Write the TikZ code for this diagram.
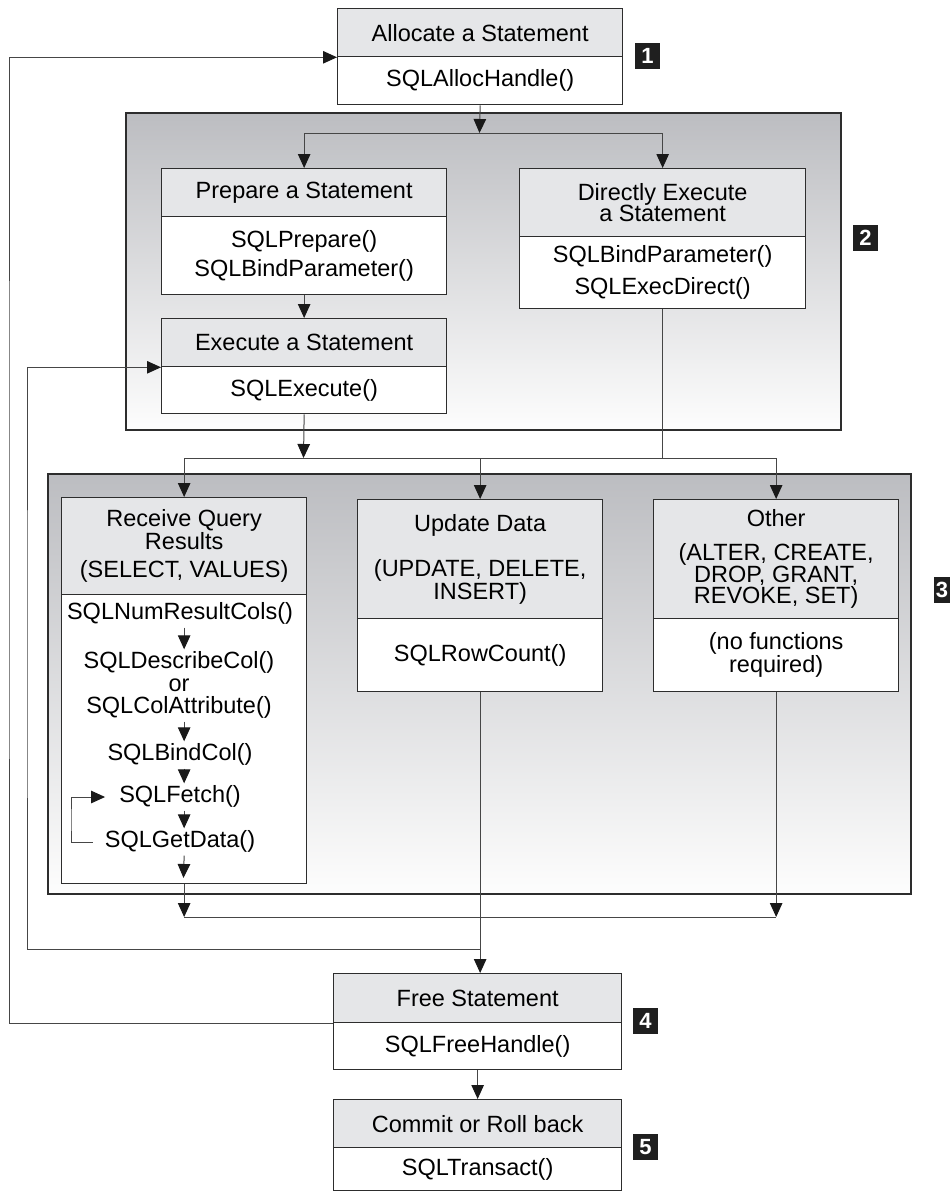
\documentclass[tikz,border=0pt]{standalone}
\usepackage{fontspec}
\setmainfont{Liberation Sans}
\usetikzlibrary{arrows.meta,calc}
\definecolor{hdrgray}{RGB}{229,230,232}
\definecolor{grptop}{RGB}{188,189,193}
\definecolor{grpbot}{RGB}{253,253,253}
\definecolor{edge}{RGB}{45,45,45}
\definecolor{wire}{RGB}{70,70,70}
\begin{document}
\begin{tikzpicture}[x=1pt,y=-1pt,
  every node/.style={font=\fontsize{23.5}{21.5}\selectfont},
  hdr/.style={draw=edge, line width=1.3pt, fill=hdrgray, anchor=north west, inner sep=0pt, align=center},
  bdy/.style={draw=edge, line width=1.3pt, fill=white, anchor=north west, inner sep=0pt, align=center},
  grp/.style={draw=edge, line width=1.5pt, top color=grptop, bottom color=grpbot, anchor=north west, inner sep=0pt},
  badge/.style={fill=black!88, text=white, font=\bfseries\fontsize{22}{22}\selectfont, minimum width=25pt, minimum height=26pt, inner sep=0pt},
  fn/.style={inner xsep=3pt, inner ysep=3pt, text height=16pt, text depth=5pt},
  wireline/.style={draw=wire, line width=1pt},
  arr/.style={wireline, -{Triangle[length=14pt,width=12.5pt,color=black!90]}}]
\useasboundingbox (0,0) rectangle (950,1192);

% shaded groups
\node[grp, minimum width=715pt, minimum height=317pt] (g2) at (125,112) {};
\node[grp, minimum width=863pt, minimum height=420pt] (g3) at (47,473) {};

% 1: allocate
\node[hdr, minimum width=285pt, minimum height=48pt] (allocH) at (337,8) {Allocate a Statement};
\node[bdy, minimum width=285pt, minimum height=48pt] (alloc) at (337,56) {SQLAllocHandle()};

% 2: prepare / direct / execute
\node[hdr, minimum width=285pt, minimum height=48pt] (prepH) at (161,168) {Prepare a Statement};
\node[bdy, minimum width=285pt, minimum height=78pt] (prep) at (161,216) {SQLPrepare()\\[6pt]SQLBindParameter()};
\node[hdr, minimum width=286pt, minimum height=68pt] (dirH) at (519,168) {Directly Execute\\a Statement};
\node[bdy, minimum width=286pt, minimum height=72pt] (dir) at (519,236) {SQLBindParameter()\\[9pt]SQLExecDirect()};
\node[hdr, minimum width=285pt, minimum height=48pt] (execH) at (161,318) {Execute a Statement};
\node[bdy, minimum width=285pt, minimum height=47pt] (exec) at (161,366) {SQLExecute()};

% 3: result handling
\node[hdr, minimum width=245pt, minimum height=97pt] (recvH) at (61,497) {Receive Query\\Results\\[7pt](SELECT, VALUES)};
\node[bdy, minimum width=245pt, minimum height=289pt] (rbody) at (61,594) {};
\node[hdr, minimum width=245pt, minimum height=119pt] (updH) at (357,499) {Update Data\\[22pt](UPDATE, DELETE,\\INSERT)};
\node[bdy, minimum width=245pt, minimum height=73pt] (ubody) at (357,618) {SQLRowCount()};
\node[hdr, minimum width=245pt, minimum height=119pt] (othH) at (653,499) {Other\\[12.5pt](ALTER, CREATE,\\DROP, GRANT,\\REVOKE, SET)};
\node[bdy, minimum width=245pt, minimum height=73pt] (obody) at (653,618) {(no functions\\required)};

% query result calls
\node[fn] (num) at (180,614) {SQLNumResultCols()};
\node[fn] (desc) at (179,663) {SQLDescribeCol()};
\node[fn] (orw) at (179,686) {or};
\node[fn] (colattr) at (179,708) {SQLColAttribute()};
\node[fn] (bind) at (180,755) {SQLBindCol()};
\node[fn] (fetch) at (180,797) {SQLFetch()};
\node[fn] (getdata) at (180,842) {SQLGetData()};
\coordinate (rend) at (183.5,878);
\coordinate (floop) at (71,820);

% 4: free, 5: commit
\node[hdr, minimum width=288pt, minimum height=49pt] (freeH) at (333,973) {Free Statement};
\node[bdy, minimum width=288pt, minimum height=47pt] (fbody) at (333,1022) {SQLFreeHandle()};
\node[hdr, minimum width=288pt, minimum height=48pt] (comH) at (333,1099) {Commit or Roll back};
\node[bdy, minimum width=288pt, minimum height=43pt] (cbody) at (333,1147) {SQLTransact()};

% step markers
\node[badge] (b1) at (647.5,56) {1};
\node[badge] (b2) at (865.5,238) {2};
\node[badge, minimum width=16pt] (b3) at (942,589.5) {3};
\node[badge] (b4) at (645.5,1020.5) {4};
\node[badge] (b5) at (645.5,1147) {5};

% junction points
\coordinate (s1) at (479.5,133);
\coordinate (s2) at (303.5,458);
\coordinate (s3) at (479.5,917);
\coordinate (m) at (479.5,949);
\coordinate (innerc) at (27,650);
\coordinate (outerc) at (9,500);

% flow
\draw[arr] (alloc.south) -- (s1);
\draw[arr] (s1) -| (prepH.north);
\draw[arr] (s1) -| (dirH.north);
\draw[arr] (prep.south) -- (execH.north);
\draw[arr] (exec.south) -- (s2);
\draw[wireline] (dir.south) -- (dir.south |- s2);
\draw[arr] (s2) -| (recvH.north);
\draw[arr] (s2) -| (updH.north);
\draw[arr] (s2) -| (othH.north);

\draw[arr] (num.south -| rbody) -- (desc.north -| rbody);
\draw[arr] (colattr.south -| rbody) -- (bind.north -| rbody);
\draw[arr] (bind.south -| rbody) -- (fetch.north -| rbody);
\draw[arr] (fetch.south -| rbody) -- (getdata.north -| rbody);
\draw[arr] (getdata.south -| rbody) -- (rend);
\draw[arr] ([xshift=-9pt]getdata.west) -| (floop) |- ([xshift=-11pt]fetch.west);

\draw[arr] (rbody.south) -- (rbody.south |- s3);
\draw[wireline] (rbody.south |- s3) -- (obody.south |- s3);
\draw[arr] (obody.south) -- (obody.south |- s3);
\draw[arr] (ubody.south) -- (ubody.south |- freeH.north);

\draw[arr] (m) -| (innerc) |- (execH.south west);
\draw[arr] (freeH.south west) -| (outerc) |- (allocH.south west);
\draw[arr] (fbody.south) -- (comH.north);
\end{tikzpicture}
\end{document}
